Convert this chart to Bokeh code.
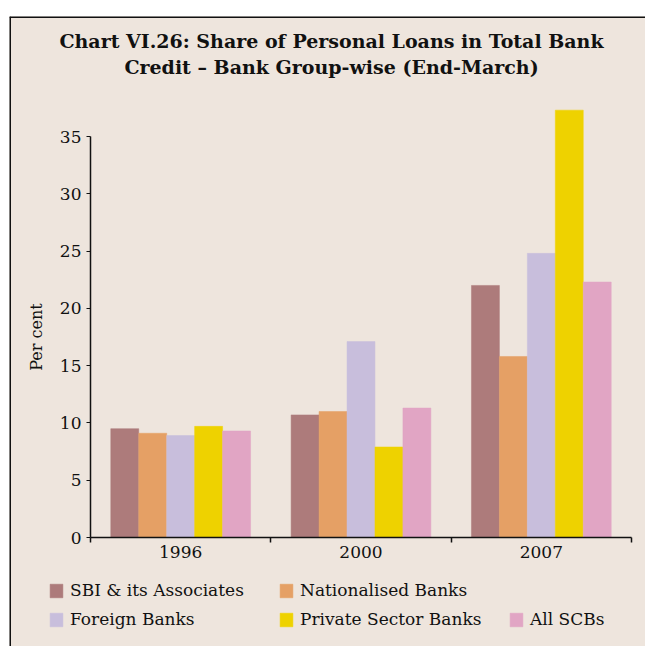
from bokeh.plotting import figure
from bokeh.models import (Range1d, FixedTicker, ColumnDataSource, Legend, LegendItem, Label, Span)
from bokeh.transform import dodge
from bokeh.embed import file_html
from bokeh.resources import INLINE

# ---- data ----
years = ["1996", "2000", "2007"]
series_names = ["SBI & its Associates", "Nationalised Banks", "Foreign Banks",
                "Private Sector Banks", "All SCBs"]
sbi = [9.5, 10.7, 22.0]
nationalised = [9.1, 11.0, 15.8]
foreign = [8.9, 17.1, 24.8]
private = [9.7, 7.9, 37.3]
all_scbs = [9.3, 11.3, 22.3]
y_ticks = [0, 5, 10, 15, 20, 25, 30, 35]
title_lines = ["Chart VI.26: Share of Personal Loans in Total Bank",
               "Credit \u2013 Bank Group-wise (End-March)"]

# ---- style / layout (pixels on the page) ----
BG = "#EEE5DD"
INK = "#111111"
colors = ["#AD7B7B", "#E5A065", "#C8BEDC", "#EED200", "#E1A5C4"]
FONT = "DejaVu Serif"

W, H = 645, 646
PAGE_X0, PAGE_Y0 = 0, 0           # where the canvas starts in the picture
MT, ML = 16, 9                     # white strip above / left of the panel
frame_left = PAGE_X0 + ML
frame_top = PAGE_Y0 + MT
frame_right = PAGE_X0 + W
frame_bottom = PAGE_Y0 + H
ax_left, ax_right = 90.0, 631.0    # x axis extent
ax_zero, ax_35 = 537.0, 136.0      # y=0 and y=35
ppx = (ax_right - ax_left) / len(years)
ppy = (ax_zero - ax_35) / 35.0
x_start = (frame_left - ax_left) / ppx
x_end = (frame_right - ax_left) / ppx
y_start = (ax_zero - frame_bottom) / ppy
y_end = (ax_zero - frame_top) / ppy

p = figure(width=W, height=H, x_range=Range1d(x_start, x_end), y_range=Range1d(y_start, y_end),
           output_backend="svg", toolbar_location=None,
           min_border_left=ML, min_border_right=0, min_border_top=MT, min_border_bottom=0,
           background_fill_color=BG, border_fill_color="white", outline_line_color=None)
p.xgrid.visible = False
p.ygrid.visible = False

# panel border (top and left edges)
p.add_layout(Span(location=y_end, dimension="width", line_color=INK, line_width=3))
p.add_layout(Span(location=x_start, dimension="height", line_color=INK, line_width=3))

src = ColumnDataSource(dict(
    x=[i + 0.5 for i in range(len(years))],
    sbi=sbi, nationalised=nationalised, foreign=foreign, private=private, all_scbs=all_scbs))
fields = ["sbi", "nationalised", "foreign", "private", "all_scbs"]
bw = 0.155
renderers = []
for j, f in enumerate(fields):
    r = p.vbar(x=dodge("x", (j - 2) * bw, range=p.x_range), top=f, bottom=0, width=bw,
               source=src, fill_color=colors[j], line_color=colors[j], line_width=0.5)
    renderers.append(r)
blank = p.vbar(x=[], top=[], width=bw, fill_alpha=0, line_alpha=0)

# y axis
ya = p.yaxis[0]
ya.fixed_location = 0
ya.ticker = FixedTicker(ticks=y_ticks)
ya.bounds = (0, 35)
ya.axis_line_width = 1.5
ya.axis_line_color = INK
ya.major_tick_line_color = INK
ya.major_tick_out = 4
ya.major_tick_in = 0
ya.minor_tick_line_color = None
ya.major_label_text_font = FONT
ya.major_label_text_font_size = "17px"
ya.major_label_text_color = INK
ya.major_label_standoff = 5
ya.axis_label = "Per cent"
ya.axis_label_text_font = FONT
ya.axis_label_text_font_size = "16px"
ya.axis_label_text_font_style = "normal"
ya.axis_label_text_color = INK
ya.axis_label_standoff = 11

# x axis
xa = p.xaxis[0]
xa.fixed_location = 0
centers = [i + 0.5 for i in range(len(years))]
xa.ticker = FixedTicker(ticks=centers, minor_ticks=list(range(len(years) + 1)))
xa.major_label_overrides = {c: y for c, y in zip(centers, years)}
xa.bounds = (0, len(years))
xa.axis_line_width = 1.5
xa.axis_line_color = INK
xa.major_tick_line_color = None
xa.major_tick_out = 0
xa.major_tick_in = 0
xa.minor_tick_line_color = INK
xa.minor_tick_line_width = 1.5
xa.minor_tick_out = 5
xa.minor_tick_in = 0
xa.major_label_text_font = FONT
xa.major_label_text_font_size = "17px"
xa.major_label_text_color = INK
xa.major_label_standoff = 3

# legend (3 columns, 2 rows; first row has two entries)
items = [LegendItem(label=n, renderers=[r]) for n, r in zip(series_names, renderers)]
grid_items = items[:2] + [LegendItem(label=" ", renderers=[blank])] + items[2:]
leg_left, leg_bottom = 48, 629
legend = Legend(items=grid_items, location=(leg_left - frame_left, frame_bottom - leg_bottom),
                orientation="horizontal", ncols=3,
                glyph_width=16, glyph_height=17, label_height=17, label_width=199,
                label_standoff=6, spacing=9, padding=0, margin=0,
                border_line_color=None, background_fill_alpha=0,
                label_text_font=FONT, label_text_font_size="17px", label_text_color=INK)
p.add_layout(legend)

# title
title_cx = 331
title_mid = [40.5, 66.3]
for t, m in zip(title_lines, title_mid):
    p.add_layout(Label(x=title_cx - frame_left, y=frame_bottom - m, x_units="screen", y_units="screen",
                       text=t, text_align="center", text_baseline="middle", text_font=FONT,
                       text_font_style="bold", text_font_size="19px", text_color=INK))

open("out.html", "w").write(file_html(p, INLINE))
